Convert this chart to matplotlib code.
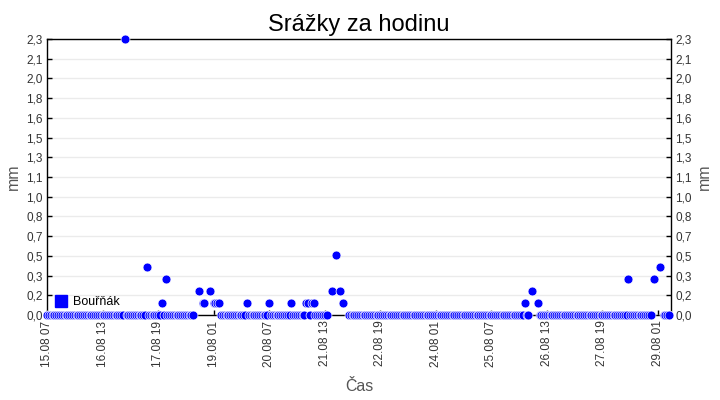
import numpy as np
import pandas as pd
import matplotlib
matplotlib.use("Agg")
import matplotlib.pyplot as plt
from matplotlib.lines import Line2D

plt.rcParams['font.family'] = ['Liberation Sans', 'DejaVu Sans']

# hourly records, first one at 15.08 07:00
start = "2023-08-15 07:00"
n_hours = 337

# hours (counted from start) with some rain and the amount in mm
rain_hours = [42, 54, 62, 64, 82, 84, 85, 88, 90, 91, 92, 93, 108, 120, 132,
              140, 141, 143, 144, 154, 156, 158, 160, 258, 262, 265, 314, 328, 331]
rain_mm = [2.3, 0.4, 0.1, 0.3, 0.2, 0.1, 0.1, 0.2, 0.1, 0.1, 0.1, 0.1, 0.1, 0.1, 0.1,
           0.1, 0.1, 0.1, 0.1, 0.2, 0.5, 0.2, 0.1, 0.1, 0.2, 0.1, 0.3, 0.3, 0.4]
# hours with no record at all
missing_hours = [80, 81, 83, 86, 87, 89, 152, 153, 155, 157, 159, 161, 162,
                 261, 263, 264, 327, 329, 330, 332]

x_labels = ["15.08 07", "16.08 13", "17.08 19", "19.08 01", "20.08 07", "21.08 13",
            "22.08 19", "24.08 01", "25.08 07", "26.08 13", "27.08 19", "29.08 01"]
y_labels = ["0,0", "0,2", "0,3", "0,5", "0,7", "0,8", "1,0", "1,1",
            "1,3", "1,5", "1,6", "1,8", "2,0", "2,1", "2,3"]
y_max = 2.3

times = pd.date_range(start, periods=n_hours, freq="h")
mm = pd.Series(0.0, index=times)
mm.iloc[rain_hours] = rain_mm
mm.iloc[missing_hours] = np.nan

fig = plt.figure(figsize=(7.2, 4.0), dpi=100)
ax = fig.add_axes([47 / 720, 85 / 400, 624 / 720, 276 / 400])

ax.plot(mm.index, mm.values, ls='none', marker='o', ms=6.4, mfc='#0000ff',
        mec='white', mew=0.5, clip_on=False, zorder=3)

ax.set_xlim(times[0], times[0] + pd.Timedelta(hours=337))
ax.set_ylim(0, y_max)
ax.set_yticks(np.linspace(0, y_max, len(y_labels)))
ax.set_yticklabels(y_labels)
ax.set_xticks(times[::30])
ax.set_xticklabels(x_labels, rotation=90)

ax.grid(axis='y', color='#ebebeb', lw=1)
ax.set_axisbelow(True)
for s in ax.spines.values():
    s.set_color('black')
    s.set_linewidth(1)

ax.tick_params(axis='both', direction='in', length=3.5, width=1, labelsize=8.5,
               labelcolor='#333333')
ax.tick_params(axis='y', right=True, labelright=True, pad=3)
ax.tick_params(axis='x', pad=4)

ax.set_title("Srážky za hodinu", fontsize=17, pad=6)
ax.set_xlabel("Čas", fontsize=11.5, color='#555555', labelpad=9)
ax.set_ylabel("mm", fontsize=11.5, color='#555555', labelpad=4)
ax2 = ax.secondary_yaxis('right')
ax2.set_yticks([])
ax2.spines['right'].set_visible(False)
ax2.set_ylabel("mm", fontsize=11.5, color='#555555', labelpad=19)

handle = Line2D([], [], ls='none', marker='s', ms=8, color='#0000ff')
ax.legend([handle], ["Bouřňák"], loc='lower left', frameon=False, fontsize=9,
          handlelength=1.0, handletextpad=0.5, borderaxespad=0.2,
          bbox_to_anchor=(0.0, -0.003))

fig.savefig("out.png", dpi=100)
